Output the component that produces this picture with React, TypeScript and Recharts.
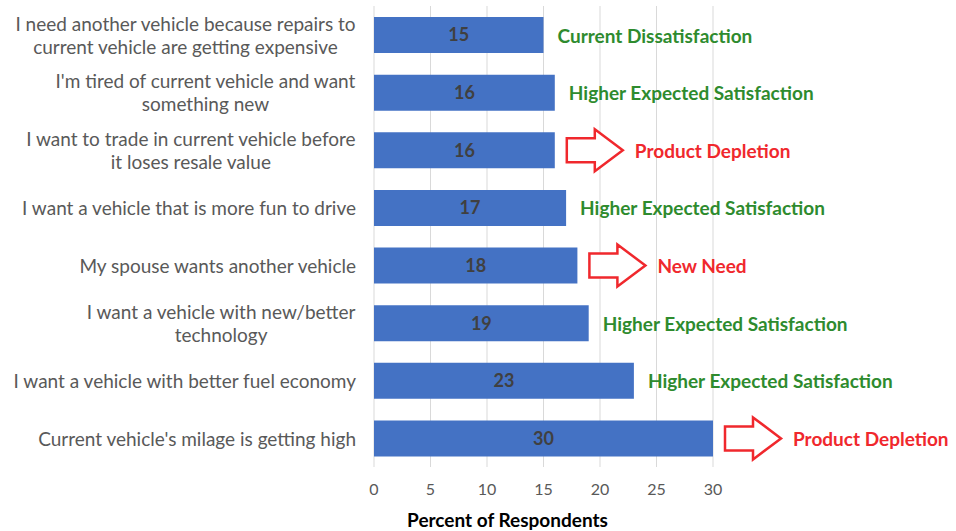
import { BarChart, Bar, XAxis, YAxis, CartesianGrid, LabelList } from "recharts";

const reasons = [
    "I need another vehicle because repairs to\ncurrent vehicle are getting expensive",
    "I'm tired of current vehicle and want\nsomething new",
    "I want to trade in current vehicle before\nit loses resale value",
    "I want a vehicle that is more fun to drive",
    "My spouse wants another vehicle",
    "I want a vehicle with new/better\ntechnology",
    "I want a vehicle with better fuel economy",
    "Current vehicle's milage is getting high",
];

const percents = [15, 16, 16, 17, 18, 19, 23, 30];

const drivers = [
    "Current Dissatisfaction",
    "Higher Expected Satisfaction",
    "Product Depletion",
    "Higher Expected Satisfaction",
    "New Need",
    "Higher Expected Satisfaction",
    "Higher Expected Satisfaction",
    "Product Depletion",
];

// true = red arrow callout, false = plain green text
const arrowed = [false, false, true, false, true, false, false, true];

const xTicks = [0, 5, 10, 15, 20, 25, 30];

const data = reasons.map((reason, i) => ({
    reason,
    value: percents[i],
    driver: drivers[i],
    arrow: arrowed[i],
}));

const FONT = "Lato, 'Open Sans', sans-serif";
const LABEL_SIZE = 19;
const GREEN = "#2E8B2E";
const RED = "#F0282D";

let ctx: CanvasRenderingContext2D | null = null;
function textWidth(s: string) {
    if (!ctx) ctx = document.createElement("canvas").getContext("2d");
    if (!ctx) return s.length * 8.5;
    ctx.font = `${LABEL_SIZE}px Lato`;
    return ctx.measureText(s).width;
}

const ReasonTick = (props: any) => {
    const { x, y, payload } = props;
    const lines: string[] = String(payload.value).split("\n");
    const lh = 23;
    const start = -((lines.length - 1) * lh) / 2;
    const right = x - 10;
    // wrapped lines are centred on each other, longest one flush right
    const widest = Math.max(...lines.map(textWidth));
    const mid = right - widest / 2;
    return (
        <g>
            {lines.map((line, i) => (
                <text
                    key={i}
                    x={lines.length > 1 ? mid : right}
                    y={y + start + i * lh}
                    textAnchor={lines.length > 1 ? "middle" : "end"}
                    dominantBaseline="central"
                    fill="#595959"
                    fontSize={LABEL_SIZE}
                    fontFamily={FONT}
                >
                    {line}
                </text>
            ))}
        </g>
    );
};

const DriverLabel = (props: any) => {
    const { x, y, width, height, index } = props;
    const row = data[index];
    const cy = y + height / 2;
    const end = x + width;
    if (!row.arrow) {
        return (
            <text
                x={end + 14}
                y={cy}
                dominantBaseline="central"
                fill={GREEN}
                fontSize={19}
                fontWeight={700}
                fontFamily={FONT}
            >
                {row.driver}
            </text>
        );
    }
    const x0 = end + 12;
    const d = `M${x0},${cy - 12} L${x0 + 28},${cy - 12} L${x0 + 28},${cy - 21} L${x0 + 56},${cy} L${x0 + 28},${cy + 21} L${x0 + 28},${cy + 12} L${x0},${cy + 12} Z`;
    return (
        <g>
            <path d={d} fill="#fff" stroke={RED} strokeWidth={2.5} strokeLinejoin="miter" />
            <text
                x={end + 80}
                y={cy}
                dominantBaseline="central"
                fill={RED}
                fontSize={19}
                fontWeight={700}
                fontFamily={FONT}
            >
                {row.driver}
            </text>
        </g>
    );
};

export default function App() {
    return (
        <div style={{ position: "absolute", left: 0, top: 0, width: 956, height: 531, background: "#fff" }}>
            <BarChart
                width={956}
                height={531}
                data={data}
                layout="vertical"
                margin={{ top: 6, right: 243, bottom: 0, left: 0 }}
            >
                <CartesianGrid horizontal={false} stroke="#d9d9d9" />
                <XAxis
                    type="number"
                    domain={[0, 30]}
                    ticks={xTicks}
                    axisLine={false}
                    tickLine={false}
                    tickMargin={11}
                    height={64}
                    tick={{ fill: "#595959", fontSize: 16, fontFamily: FONT }}
                    label={{
                        value: "Percent of Respondents",
                        position: "insideBottom",
                        offset: 4,
                        dx: -36,
                        fill: "#000",
                        fontSize: 19,
                        fontWeight: 700,
                        fontFamily: FONT,
                    }}
                />
                <YAxis
                    type="category"
                    dataKey="reason"
                    width={374}
                    axisLine={false}
                    tickLine={false}
                    tick={<ReasonTick />}
                    interval={0}
                />
                <Bar dataKey="value" fill="#4472C4" barSize={36} isAnimationActive={false}>
                    <LabelList
                        dataKey="value"
                        position="center"
                        fill="#404040"
                        fontSize={18}
                        fontWeight={700}
                        fontFamily={FONT}
                    />
                    <LabelList dataKey="driver" content={<DriverLabel />} />
                </Bar>
            </BarChart>
        </div>
    );
}
